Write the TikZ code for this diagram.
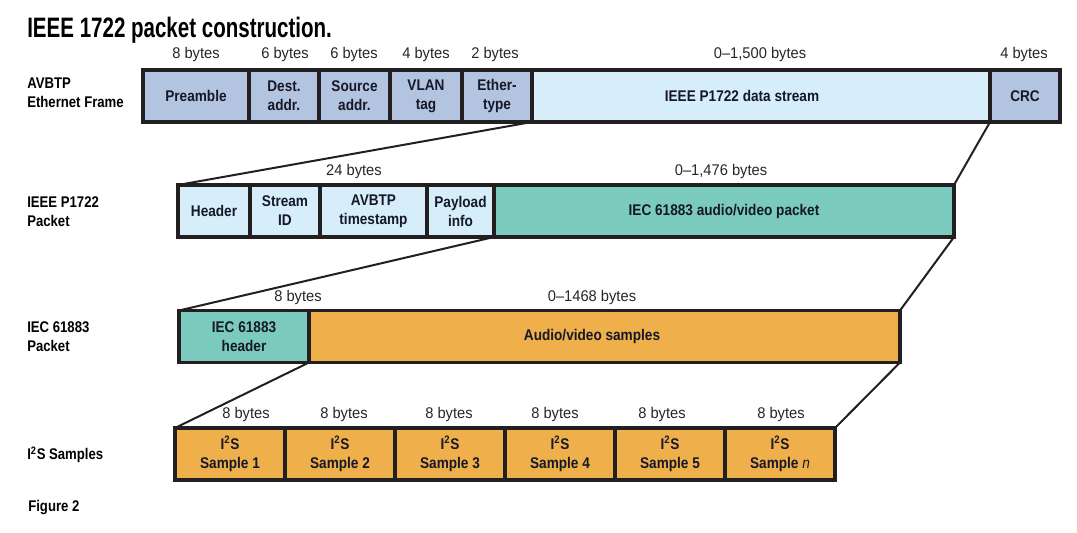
\documentclass[tikz,border=0pt]{standalone}
\usepackage{fontspec}
\setmainfont{Liberation Sans}[FakeStretch=0.88]
\newfontfamily\condfont{Liberation Sans}[FakeStretch=0.85]
\newfontfamily\titlefont{Liberation Sans}[FakeStretch=0.73]
\newfontfamily\bytefont{Liberation Sans}[FakeStretch=0.95]
\definecolor{framebl}{RGB}{178,196,224}
\definecolor{streambl}{RGB}{214,238,250}
\definecolor{iecteal}{RGB}{122,203,189}
\definecolor{avorange}{RGB}{239,176,76}
\definecolor{edgeink}{RGB}{35,31,32}
\definecolor{textink}{RGB}{22,24,40}
\def\fieldfont{\bfseries\fontsize{11}{13.5}\selectfont}
\tikzset{
	fieldtext/.style={text=textink, align=center, inner sep=0pt, font=\fieldfont},
	field/.style={fieldtext, draw=edgeink, line width=0.8mm, outer sep=0pt, minimum height=1.3cm},
	bytes/.style={anchor=base, text=black!85, font=\bytefont\fontsize{11}{12}\selectfont},
	rowname/.style={anchor=west, align=left, inner sep=0pt, font=\condfont\bfseries\fontsize{11}{13.5}\selectfont},
	zoomline/.style={draw=edgeink, line width=0.5mm}
}
\def\field[#1](#2)(#3:#4:#5)#6{\node[field,#1,minimum width={(#4-#3)*0.025cm}] (#2) at ({(#3+#4)/2},#5) {#6};}

\begin{document}
\begin{tikzpicture}[x=0.025cm,y=-0.025cm]
			%%%%% START %%%%%
			\useasboundingbox (0,0) rectangle (1077,532);
			
			\node[anchor=base west, inner sep=0pt, font=\titlefont\bfseries\fontsize{20}{24}\selectfont] (title) at (27,38) {IEEE 1722 packet construction.};
			
			% Ethernet frame
			\node[rowname] (nframe) at (27,93) {AVBTP\\Ethernet Frame};
			\field[fill=framebl](pre)(143:249:96){Preamble}
			\field[fill=framebl](dest)(249:319:96){Dest.\\addr.}
			\field[fill=framebl](src)(319:390:96){Source\\addr.}
			\field[fill=framebl](vlan)(390:462:96){VLAN\\tag}
			\field[fill=framebl](ether)(462:532:96){Ether-\\type}
			\field[fill=streambl](data)(532:990:96){}
			\field[fill=framebl](crc)(990:1060:96){CRC}
			\node[fieldtext] (datatext) at (742,96) {IEEE P1722 data stream};
			
			\node[bytes] (bpre) at (196,59) {8 bytes};
			\node[bytes] (bdest) at (285,59) {6 bytes};
			\node[bytes] (bsrc) at (354,59) {6 bytes};
			\node[bytes] (bvlan) at (426,59) {4 bytes};
			\node[bytes] (bether) at (495,59) {2 bytes};
			\node[bytes] (bdata) at (760,59) {0–1,500 bytes};
			\node[bytes] (bcrc) at (1024,59) {4 bytes};
			
			% P1722 packet
			\node[rowname] (npkt) at (27,212) {IEEE P1722\\Packet};
			\field[fill=streambl](hdr)(178:250:211){Header}
			\field[fill=streambl](sid)(250:320:211){Stream\\ID}
			\field[fill=streambl](tstamp)(320:427:211){AVBTP\\timestamp}
			\field[fill=streambl](pinfo)(427:494:211){Payload\\info}
			\field[fill=iecteal](iec)(494:954:211){IEC 61883 audio/video packet}
			
			\node[bytes] (bhdr) at (354,175) {24 bytes};
			\node[bytes] (biec) at (721,175) {0–1,476 bytes};
			
			% IEC 61883 packet
			\node[rowname] (niec) at (27,337) {IEC 61883\\Packet};
			\field[fill=iecteal](ihdr)(179:309:336.5){IEC 61883\\header}
			\field[fill=avorange](avs)(309:900:336.5){}
			\node[fieldtext] (avstext) at (592,336.5) {Audio/video samples};
			
			\node[bytes] (bihdr) at (298,301) {8 bytes};
			\node[bytes] (bavs) at (592,301) {0–1468 bytes};
			
			% I2S samples
			\node[rowname] (nis) at (27,455) {I\textsuperscript{2}S Samples};
			\field[fill=avorange](sa)(175:285:454){I\textsuperscript{2}S\\Sample 1}
			\field[fill=avorange](sb)(285:395:454){I\textsuperscript{2}S\\Sample 2}
			\field[fill=avorange](sc)(395:505:454){I\textsuperscript{2}S\\Sample 3}
			\field[fill=avorange](sd)(505:615:454){I\textsuperscript{2}S\\Sample 4}
			\field[fill=avorange](se)(615:725:454){I\textsuperscript{2}S\\Sample 5}
			\field[fill=avorange](sn)(725:835:454){I\textsuperscript{2}S\\Sample {\mdseries\itshape n}}
			
			\node[bytes] (bsa) at (246,418) {8 bytes};
			\node[bytes] (bsb) at (344,418) {8 bytes};
			\node[bytes] (bsc) at (449,418) {8 bytes};
			\node[bytes] (bsd) at (555,418) {8 bytes};
			\node[bytes] (bse) at (662,418) {8 bytes};
			\node[bytes] (bsn) at (781,418) {8 bytes};
			
			% zoom lines between the rows
			\draw[zoomline] (data.south west) -- (hdr.north west);
			\draw[zoomline] (data.south east) -- (iec.north east);
			\draw[zoomline] (iec.south west) -- (ihdr.north west);
			\draw[zoomline] (iec.south east) -- (avs.north east);
			\draw[zoomline] (avs.south west) -- (sa.north west);
			\draw[zoomline] (avs.south east) -- (sn.north east);
			
			\node[rowname] (nfig) at (28,508) {Figure 2};
			
			%%%%% END %%%%%
\end{tikzpicture}
\end{document}
